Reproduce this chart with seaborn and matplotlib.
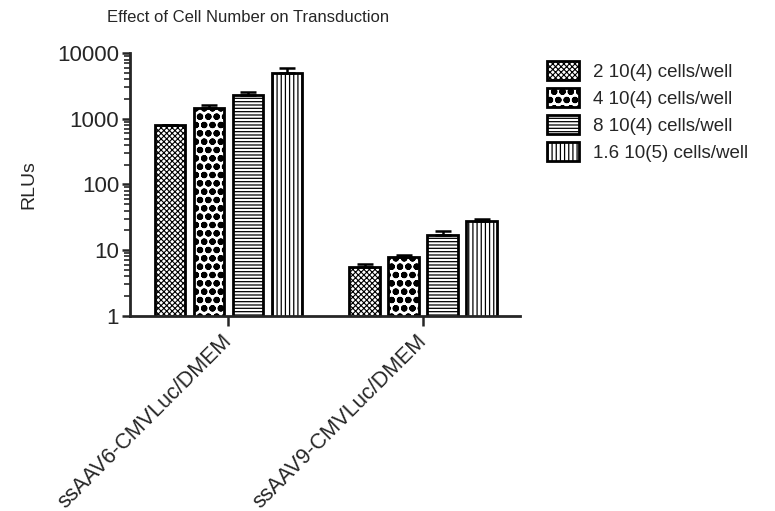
import pandas as pd
import matplotlib
matplotlib.use('Agg')
import matplotlib.pyplot as plt
import seaborn as sns
from matplotlib.ticker import LogLocator, FixedLocator, FixedFormatter, NullFormatter

# data
vectors = ['ssAAV6-CMVLuc/DMEM', 'ssAAV9-CMVLuc/DMEM']
densities = ['2 10(4) cells/well', '4 10(4) cells/well',
             '8 10(4) cells/well', '1.6 10(5) cells/well']
rlu_aav6 = [800, 1450, 2300, 4900]
err_aav6 = [0, 150, 300, 1000]
rlu_aav9 = [5.6, 7.8, 17.0, 28.0]
err_aav9 = [0.5, 0.6, 2.5, 1.5]
hatches = ['xxxxxx', 'oo', '-----', '||||']
hatch_lw = [0.8, 2.2, 0.9, 0.9]

rows = []
for vec, vals, errs in [(vectors[0], rlu_aav6, err_aav6), (vectors[1], rlu_aav9, err_aav9)]:
    for d, v, e in zip(densities, vals, errs):
        rows.append({'vector': vec, 'density': d, 'rlu': v, 'err': e})
df = pd.DataFrame(rows)

sns.set_style('ticks')
plt.rcParams['font.family'] = ['Liberation Sans', 'DejaVu Sans']
plt.rcParams['hatch.linewidth'] = 0.9


def style_patch(p, h, lw):
    p.set_hatch(h)
    if hasattr(p, 'set_hatch_linewidth'):
        p.set_hatch_linewidth(lw)


fig = plt.figure(figsize=(7.75, 5.11), dpi=100)
ax = fig.add_axes([0.168, 0.382, 0.503, 0.514])

sns.barplot(data=df, x='vector', y='rlu', hue='density', hue_order=densities,
            order=vectors, palette=['white'] * 4, edgecolor='black',
            linewidth=2.0, gap=0.22, errorbar=None, ax=ax)
ax.set_yscale('log')

# apply hatches: containers are one per hue level
for cont, h, lw in zip(ax.containers, hatches, hatch_lw):
    for p in cont:
        style_patch(p, h, lw)

# upward-only error bars at the bar centres
for cont, d in zip(ax.containers, densities):
    sub = df[df.density == d].set_index('vector').loc[vectors]
    xs = [p.get_x() + p.get_width() / 2 for p in cont]
    ax.errorbar(xs, sub.rlu.values, yerr=[[0] * len(xs), sub.err.values],
                fmt='none', ecolor='black', elinewidth=1.8, capsize=6, capthick=1.8)

ax.set_ylim(1, 10000)
ax.set_xlim(-0.503, 1.497)
ax.yaxis.set_major_locator(FixedLocator([1, 10, 100, 1000, 10000]))
ax.yaxis.set_major_formatter(FixedFormatter(['1', '10', '100', '1000', '10000']))
ax.yaxis.set_minor_locator(LogLocator(base=10, subs=range(2, 10)))
ax.yaxis.set_minor_formatter(NullFormatter())

sns.despine(ax=ax)
for s in ['left', 'bottom']:
    ax.spines[s].set_linewidth(2.0)
ax.tick_params(axis='y', which='major', length=6, width=1.8, labelsize=16, pad=2)
ax.tick_params(axis='y', which='minor', length=4, width=1.2)
ax.tick_params(axis='x', which='major', length=7, width=1.8, labelsize=15.5, pad=9)

ax.set_xticks(range(len(vectors)))
ax.set_xticklabels(vectors, rotation=45, ha='right', va='center',
                   rotation_mode='anchor')
ax.set_xlabel('')
ax.set_ylabel('RLUs', fontsize=14, labelpad=14)
fig.text(0.32, 0.965, 'Effect of Cell Number on Transduction', ha='center',
         va='center', fontsize=12)

leg = ax.legend(loc='upper left', bbox_to_anchor=(1.025, 1.035), frameon=False,
                fontsize=13.5, handlelength=1.75, handleheight=1.2,
                labelspacing=0.38, handletextpad=0.7)
for patch, h, lw in zip(leg.get_patches(), hatches, hatch_lw):
    style_patch(patch, h, lw)
    patch.set_edgecolor('black')
    patch.set_linewidth(2.0)

fig.savefig('out.png', dpi=100)
